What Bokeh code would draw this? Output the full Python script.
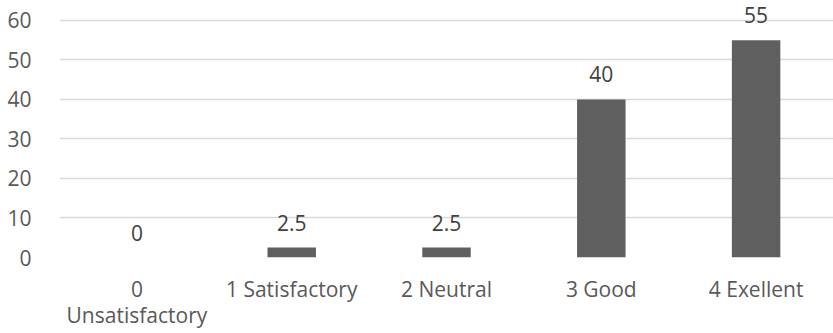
from bokeh.plotting import figure
from bokeh.models import (ColumnDataSource, LabelSet, Range1d, FixedTicker,
                          FactorRange, CategoricalAxis)
from bokeh.core.properties import value
from bokeh.embed import file_html
from bokeh.resources import INLINE

categories = ["0", "1 Satisfactory", "2 Neutral", "3 Good", "4 Exellent"]
second_line = ["Unsatisfactory", " ", "  ", "   ", "    "]
values = [0, 2.5, 2.5, 40, 55]
value_labels = ["0", "2.5", "2.5", "40", "55"]
y_ticks = [0, 10, 20, 30, 40, 50, 60]

FONT = "Open Sans"
TXT = "#595959"
FS = "21px"

src = ColumnDataSource(dict(cat=categories, val=values, lab=value_labels))

p = figure(x_range=FactorRange(factors=categories), y_range=Range1d(0, 65.06),
           frame_width=774, frame_height=257,
           output_backend="svg", toolbar_location=None,
           min_border_left=59, min_border_right=0, min_border_top=0, min_border_bottom=76)
p.outline_line_color = None
p.background_fill_color = "white"
p.border_fill_color = "white"

p.vbar(x="cat", top="val", width=0.313, source=src, fill_color="#5f5f5f", line_color=None)

labels = LabelSet(x="cat", y="val", text="lab", source=src, y_offset=25,
                  text_align="center", text_baseline="middle",
                  text_font=value(FONT), text_font_size=value(FS), text_color="#404040")
p.add_layout(labels)

p.xgrid.grid_line_color = None
p.ygrid.grid_line_color = "#d9d9d9"
p.ygrid.grid_line_width = 1.5
p.yaxis.ticker = FixedTicker(ticks=y_ticks)

p.extra_x_ranges = {"line2": FactorRange(factors=second_line)}
ax2 = CategoricalAxis(x_range_name="line2")
p.add_layout(ax2, "below")

for ax in (p.xaxis[0], p.yaxis[0], ax2):
    ax.axis_line_color = None
    ax.major_tick_line_color = None
    ax.minor_tick_line_color = None
    ax.major_label_text_font = FONT
    ax.major_label_text_font_size = FS
    ax.major_label_text_color = TXT

p.xaxis[0].major_label_standoff = 11
ax2.major_label_standoff = -11
p.yaxis.major_label_standoff = 22

open("out.html", "w").write(file_html(p, INLINE))
